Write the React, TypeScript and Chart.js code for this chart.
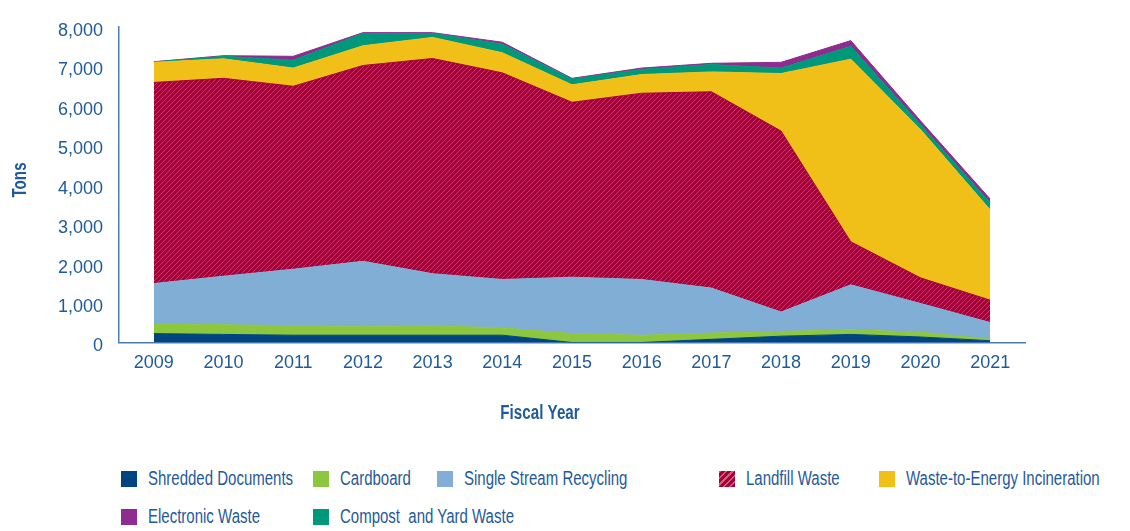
import React, { useEffect, useRef } from 'react';
import { Chart, registerables } from 'chart.js';

Chart.register(...registerables);

const years = ['2009', '2010', '2011', '2012', '2013', '2014', '2015', '2016', '2017', '2018', '2019', '2020', '2021'];
const shreddedDocuments = [225, 205, 185, 185, 185, 185, 0, 0, 80, 160, 205, 140, 45];
const cardboard = [256, 244, 240, 223, 240, 184, 225, 182, 158, 119, 115, 122, 40];
const singleStreamRecycling = [1012, 1231, 1432, 1650, 1318, 1228, 1430, 1415, 1141, 493, 1141, 728, 420];
const landfillWaste = [5097, 5014, 4636, 4961, 5454, 5236, 4432, 4719, 4975, 4587, 1092, 648, 568];
const wasteToEnergy = [510, 495, 461, 500, 534, 509, 443, 475, 503, 1457, 4627, 3762, 2289];
const compostYardWaste = [10, 63, 201, 309, 97, 219, 145, 131, 187, 138, 325, 122, 177];
const electronicWaste = [5, 16, 97, 24, 24, 48, 19, 32, 31, 146, 145, 97, 97];

const yMin = 0;
const yMax = 8000;
const yStep = 1000;

const TEXT = '#1F5A99';
const AXIS = '#4A7DB5';
const FONT = '"Liberation Sans", Arial, sans-serif';

const C = {
  shredded: '#00457F',
  cardboard: '#8DC63F',
  ssr: '#80AED5',
  landfill: '#A5003A',
  wte: '#F0C018',
  compost: '#00987A',
  ewaste: '#8E2C8F',
};

const legendItems = [
  { label: 'Shredded Documents', color: C.shredded, left: 121, top: 470 },
  { label: 'Cardboard', color: C.cardboard, left: 313, top: 470 },
  { label: 'Single Stream Recycling', color: C.ssr, left: 437, top: 470 },
  { label: 'Landfill Waste', color: C.landfill, left: 719, top: 470, hatch: true },
  { label: 'Waste-to-Energy Incineration', color: C.wte, left: 879, top: 470 },
  { label: 'Electronic Waste', color: C.ewaste, left: 121, top: 508 },
  { label: 'Compost  and Yard Waste', color: C.compost, left: 313, top: 508 },
];

function makeHatch(): CanvasPattern | string {
  const t = document.createElement('canvas');
  const n = 5;
  t.width = n;
  t.height = n;
  const c = t.getContext('2d');
  if (!c) return C.landfill;
  c.fillStyle = C.landfill;
  c.fillRect(0, 0, n, n);
  c.strokeStyle = 'rgba(230,100,140,0.55)';
  c.lineWidth = 1;
  c.beginPath();
  c.moveTo(0, n);
  c.lineTo(n, 0);
  c.moveTo(-1, 1);
  c.lineTo(1, -1);
  c.moveTo(n - 1, n + 1);
  c.lineTo(n + 1, n - 1);
  c.stroke();
  const p = c.createPattern(t, 'repeat');
  return p || C.landfill;
}

const titlePlugin = {
  id: 'axisTitles',
  afterDraw(chart: any) {
    const ctx = chart.ctx;
    ctx.save();
    ctx.fillStyle = TEXT;
    ctx.font = `bold 20px ${FONT}`;
    ctx.textAlign = 'center';
    ctx.textBaseline = 'alphabetic';
    ctx.save();
    ctx.translate(540, 419);
    ctx.scale(0.76, 1);
    ctx.fillText('Fiscal Year', 0, 0);
    ctx.restore();
    ctx.translate(25.5, 180);
    ctx.rotate(-Math.PI / 2);
    ctx.scale(0.76, 1);
    ctx.fillText('Tons', 0, 0);
    ctx.restore();
  },
};

export default function App() {
  const ref = useRef<HTMLCanvasElement>(null);

  useEffect(() => {
    if (!ref.current) return;
    const hatch = makeHatch();
    const ds = (label: string, data: number[], color: any, border: string, fill: any) => ({
      label,
      data,
      backgroundColor: color,
      borderColor: border,
      borderWidth: 1,
      pointRadius: 0,
      tension: 0,
      fill,
    });
    const chart = new Chart(ref.current, {
      type: 'line',
      data: {
        labels: years,
        datasets: [
          ds('Shredded Documents', shreddedDocuments, C.shredded, C.shredded, 'origin'),
          ds('Cardboard', cardboard, C.cardboard, C.cardboard, '-1'),
          ds('Single Stream Recycling', singleStreamRecycling, C.ssr, C.ssr, '-1'),
          ds('Landfill Waste', landfillWaste, hatch, C.landfill, '-1'),
          ds('Waste-to-Energy Incineration', wasteToEnergy, C.wte, C.wte, '-1'),
          ds('Compost  and Yard Waste', compostYardWaste, C.compost, C.compost, '-1'),
          ds('Electronic Waste', electronicWaste, C.ewaste, C.ewaste, '-1'),
        ],
      },
      options: {
        responsive: false,
        animation: false,
        layout: { padding: { left: 0, right: 105, top: 13, bottom: 0 } },
        plugins: {
          legend: { display: false },
          tooltip: { enabled: false },
        },
        scales: {
          x: {
            offset: true,
            grid: { display: false, drawTicks: false },
            border: { display: true, color: AXIS, width: 1.5 },
            ticks: { color: TEXT, font: { family: FONT, size: 18 }, padding: 10, maxRotation: 0 },
            afterFit: (s: any) => {
              s.height = 440 - 342.5;
            },
          },
          y: {
            stacked: true,
            min: yMin,
            max: yMax,
            grid: { display: false, drawTicks: false },
            border: { display: true, color: AXIS, width: 1.5 },
            ticks: {
              stepSize: yStep,
              color: TEXT,
              font: { family: FONT, size: 18 },
              padding: 16,
              labelOffset: 4,
              callback: (v: any) => Number(v).toLocaleString('en-US'),
            },
            afterFit: (s: any) => {
              s.width = 119;
            },
          },
        },
      },
      plugins: [titlePlugin],
    });
    return () => chart.destroy();
  }, []);

  return (
    <div style={{ position: 'absolute', left: 0, top: 0, width: 1130, height: 531, background: '#fff', fontFamily: FONT }}>
      <canvas ref={ref} width={1130} height={440} style={{ position: 'absolute', left: 0, top: 0, width: 1130, height: 440 }} />
      {legendItems.map((it) => (
        <div
          key={it.label}
          style={{
            position: 'absolute',
            left: it.left,
            top: it.top,
            height: 17,
            display: 'flex',
            alignItems: 'center',
            whiteSpace: 'pre',
            color: TEXT,
            fontSize: 20,
          }}
        >
          <span
            style={{
              display: 'inline-block',
              width: 16,
              height: 16,
              marginRight: 11,
              flex: 'none',
              background: it.hatch
                ? `repeating-linear-gradient(-45deg, ${C.landfill} 0px, ${C.landfill} 3px, #D0607E 3px, #D0607E 4.5px)`
                : it.color,
            }}
          />
          <span style={{ display: 'inline-block', transform: 'scaleX(0.75)', transformOrigin: 'left center' }}>{it.label}</span>
        </div>
      ))}
    </div>
  );
}
